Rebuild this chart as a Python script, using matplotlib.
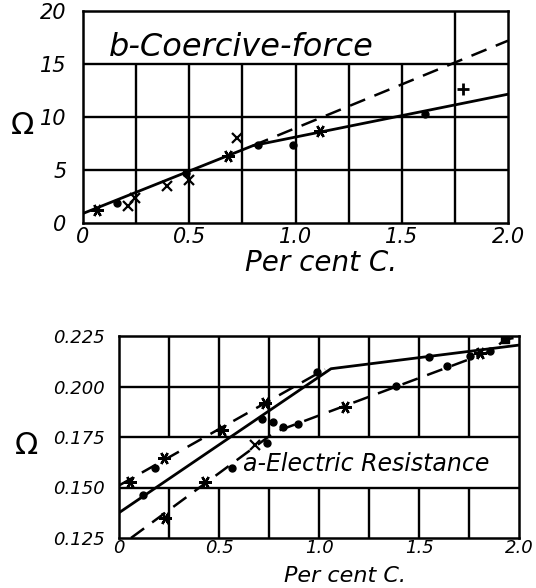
import matplotlib.pyplot as plt

# ---- panel b : coercive force (upper chart) ----
b_xticks = [0, 0.5, 1.0, 1.5, 2.0]
b_xlabels = ['0', '0.5', '1.0', '1.5', '2.0']
b_yticks = [0, 5, 10, 15, 20]
b_ylabels = ['0', '5', '10', '15', '20']

b_dot_x = [0.16, 0.484, 0.825, 0.989, 1.61]
b_dot_y = [1.87, 4.76, 7.37, 7.37, 10.3]
b_star_x = [0.067, 0.684, 1.114]
b_star_y = [1.27, 6.35, 8.7]
b_cross_x = [0.213, 0.245, 0.397, 0.5, 0.726]
b_cross_y = [1.65, 2.35, 3.49, 4.03, 8.0]
b_plus_x = [1.79]
b_plus_y = [12.65]

b_solid_x = [0, 0.8, 2.0]
b_solid_y = [0.9, 7.3, 12.15]
b_dash_x = [0.8, 2.0]
b_dash_y = [7.3, 17.2]

# ---- panel a : electric resistance (lower chart) ----
a_xticks = [0, 0.5, 1.0, 1.5, 2.0]
a_xlabels = ['0', '0.5', '1.0', '1.5', '2.0']
a_yticks = [0.125, 0.150, 0.175, 0.200, 0.225]
a_ylabels = ['0.125', '0.150', '0.175', '0.200', '0.225']

a_dot_x = [0.18, 0.988, 0.118, 0.713, 0.768, 1.552, 0.563, 0.742, 0.822,
           0.897, 1.385, 1.642, 1.755, 1.855]
a_dot_y = [0.1598, 0.2073, 0.1463, 0.1837, 0.1826, 0.2148, 0.1595, 0.1719,
           0.1798, 0.1813, 0.2003, 0.2100, 0.2151, 0.2177]
a_star_x = [0.055, 0.225, 0.513, 0.73, 0.23, 0.43, 1.13, 1.805]
a_star_y = [0.1529, 0.1644, 0.1785, 0.192, 0.1347, 0.1529, 0.1900, 0.2164]
a_cross_x = [0.68]
a_cross_y = [0.171]
a_square_x = [1.93]
a_square_y = [0.2234]

a_solid_x = [0, 1.06, 2.0]
a_solid_y = [0.1375, 0.2088, 0.2205]
a_upper_x = [0, 1.03]
a_upper_y = [0.151, 0.2085]
a_lower_x = [0.06, 0.78, 1.86, 1.93, 2.0]
a_lower_y = [0.125, 0.1775, 0.2175, 0.2232, 0.2245]

FONT = dict(family='DejaVu Sans', style='italic')
STAR = (6, 2, 90)

fig = plt.figure(figsize=(5.36, 5.88), dpi=100)
axb = fig.add_axes([83 / 536, 1 - 223 / 588, 425 / 536, 212 / 588])
axa = fig.add_axes([119 / 536, 1 - 538 / 588, 400 / 536, 202 / 588])


def style_axes(ax, xticks, xlabels, yticks, ylabels, tsize):
    ax.set_xticks(xticks)
    ax.set_xticklabels(xlabels, fontsize=tsize, **FONT)
    ax.set_yticks(yticks)
    ax.set_yticklabels(ylabels, fontsize=tsize, **FONT)
    ax.tick_params(length=0)
    for s in ax.spines.values():
        s.set_linewidth(1.8)


# upper chart
axb.set_xlim(0, 2.0)
axb.set_ylim(0, 20)
for y in [5, 10, 15]:
    axb.axhline(y, color='k', lw=1.7, zorder=1)
for x in [0.25, 0.5, 0.75, 1.0, 1.25, 1.5]:
    axb.vlines(x, 0, 15, color='k', lw=1.7, zorder=1)
axb.vlines(1.75, 0, 20, color='k', lw=1.7, zorder=1)

axb.plot(b_solid_x, b_solid_y, color='k', lw=2.0)
axb.plot(b_dash_x, b_dash_y, color='k', lw=1.8, dashes=(6.5, 4))
axb.plot(b_dot_x, b_dot_y, 'o', color='k', ms=5)
axb.plot(b_star_x, b_star_y, ls='none', marker=STAR, color='k', ms=9, mew=1.7)
axb.plot(b_cross_x, b_cross_y, 'x', color='k', ms=7, mew=1.6)
axb.plot(b_plus_x, b_plus_y, '+', color='k', ms=9, mew=2)
axb.text(0.12, 16.6, 'b-Coercive-force', fontsize=23, va='center', **FONT)

style_axes(axb, b_xticks, b_xlabels, b_yticks, b_ylabels, 15)
axb.tick_params(axis='y', pad=12)
axb.tick_params(axis='x', pad=3)

# lower chart
axa.set_xlim(0, 2.0)
axa.set_ylim(0.125, 0.225)
for y in [0.150, 0.175, 0.200]:
    axa.axhline(y, color='k', lw=1.7, zorder=1)
for x in [0.25, 0.5, 0.75, 1.0, 1.25, 1.5, 1.75]:
    axa.vlines(x, 0.125, 0.150, color='k', lw=1.7, zorder=1)
    axa.vlines(x, 0.175, 0.225, color='k', lw=1.7, zorder=1)

axa.plot(a_solid_x, a_solid_y, color='k', lw=2.0)
axa.plot(a_upper_x, a_upper_y, color='k', lw=1.8, dashes=(6.5, 4))
axa.plot(a_lower_x, a_lower_y, color='k', lw=1.8, dashes=(6.5, 4))
axa.plot(a_dot_x, a_dot_y, 'o', color='k', ms=5)
axa.plot(a_star_x, a_star_y, ls='none', marker=STAR, color='k', ms=9, mew=1.7)
axa.plot(a_cross_x, a_cross_y, 'x', color='k', ms=7, mew=1.6)
axa.plot(a_square_x, a_square_y, 's', color='k', ms=6)
axa.text(0.62, 0.1615, 'a-Electric Resistance', fontsize=17, va='center', **FONT)

style_axes(axa, a_xticks, a_xlabels, a_yticks, a_ylabels, 13)
axa.tick_params(axis='y', pad=10)
axa.tick_params(axis='x', pad=1)

# axis titles placed as in the original drawing
fig.text(321 / 536, 1 - 263 / 588, 'Per cent C.', fontsize=20, ha='center', va='center', **FONT)
fig.text(345 / 536, 1 - 582 / 588, 'Per cent C.', fontsize=16, ha='center', va='baseline', **FONT)
fig.text(23 / 536, 1 - 125 / 588, '\u03a9', fontsize=22, ha='center', va='center')
fig.text(27 / 536, 1 - 445 / 588, '\u03a9', fontsize=22, ha='center', va='center')

fig.savefig('out.png', dpi=100)
